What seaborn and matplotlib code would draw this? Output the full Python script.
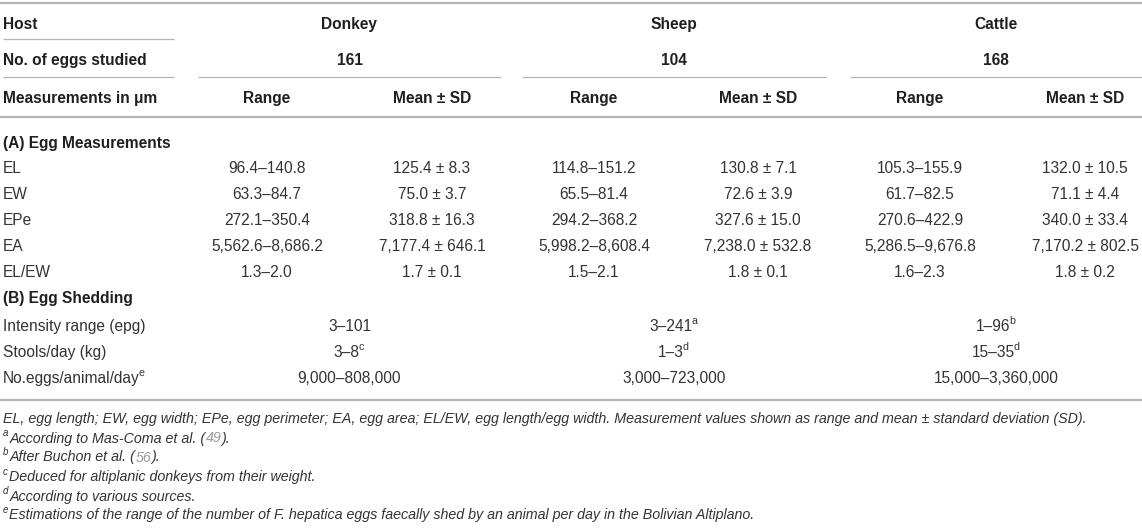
import matplotlib
matplotlib.use('Agg')
import matplotlib.pyplot as plt
import seaborn as sns

sns.set_theme(style='white')
plt.rcParams['font.family'] = ['Liberation Sans', 'DejaVu Sans']

# ---- table content ----
hosts = ['Donkey', 'Sheep', 'Cattle']
n_eggs = ['161', '104', '168']
measures = ['EL', 'EW', 'EPe', 'EA', 'EL/EW']

donkey_range = ['96.4–140.8', '63.3–84.7', '272.1–350.4', '5,562.6–8,686.2', '1.3–2.0']
donkey_mean = ['125.4 ± 8.3', '75.0 ± 3.7', '318.8 ± 16.3', '7,177.4 ± 646.1', '1.7 ± 0.1']
sheep_range = ['114.8–151.2', '65.5–81.4', '294.2–368.2', '5,998.2–8,608.4', '1.5–2.1']
sheep_mean = ['130.8 ± 7.1', '72.6 ± 3.9', '327.6 ± 15.0', '7,238.0 ± 532.8', '1.8 ± 0.1']
cattle_range = ['105.3–155.9', '61.7–82.5', '270.6–422.9', '5,286.5–9,676.8', '1.6–2.3']
cattle_mean = ['132.0 ± 10.5', '71.1 ± 4.4', '340.0 ± 33.4', '7,170.2 ± 802.5', '1.8 ± 0.2']

shed_labels = ['Intensity range (epg)', 'Stools/day (kg)', 'No.eggs/animal/day']
shed_label_sup = ['', '', 'e']
donkey_shed = ['3–101', '3–8', '9,000–808,000']
donkey_shed_sup = ['', 'c', '']
sheep_shed = ['3–241', '1–3', '3,000–723,000']
sheep_shed_sup = ['a', 'd', '']
cattle_shed = ['1–96', '15–35', '15,000–3,360,000']
cattle_shed_sup = ['b', 'd', '']

footnotes = [
    ('', [('EL, egg length; EW, egg width; EPe, egg perimeter; EA, egg area; EL/EW, egg length/egg width. '
           'Measurement values shown as range and mean ± standard deviation (SD).', 'k')]),
    ('a', [('According to Mas-Coma et al. (', 'k'), ('49', 'g'), (').', 'k')]),
    ('b', [('After Buchon et al. (', 'k'), ('56', 'g'), (').', 'k')]),
    ('c', [('Deduced for altiplanic donkeys from their weight.', 'k')]),
    ('d', [('According to various sources.', 'k')]),
    ('e', [('Estimations of the range of the number of F. hepatica eggs faecally shed by an animal '
            'per day in the Bolivian Altiplano.', 'k')]),
]

# ---- layout ----
W, H = 1142, 528
dark = '#1f1f1f'
body = '#333333'
grey = '#9a9a9a'
rule = '#b4b4b4'
fs_head = 11.2
fs_body = 11.2
fs_note = 10.3
VA = 'center_baseline'

fig = plt.figure(figsize=(W / 100, H / 100), dpi=100)
ax = fig.add_axes([0, 0, 1, 1])
ax.set_xlim(0, W)
ax.set_ylim(H, 0)
ax.axis('off')
renderer = fig.canvas.get_renderer()

grp_x0 = [198, 522, 850]
grp_x1 = [501, 826, 1142]
grp_c = [(a + b) / 2 for a, b in zip(grp_x0, grp_x1)]
col_range = [267, 594, 920]
col_mean = [432, 758, 1085]
left = 3


def rich(x, y, pieces, ha='left', size=fs_body, style='normal', weight='normal'):
    # pieces: (text, colour, is_superscript)
    arts = []
    cx = 0
    for s, c, sup in pieces:
        if not s:
            continue
        fsz = size * 0.68 if sup else size
        dy = -size * 0.45 if sup else 0
        if sup and arts:
            cx -= 1
        t = ax.text(x + cx, y + dy, s, color=c, fontsize=fsz, va=VA,
                    ha='left', fontstyle=style, fontweight=weight)
        arts.append(t)
        cx += t.get_window_extent(renderer).width
        if sup:
            cx += 1
    if ha == 'center':
        for t in arts:
            px, py = t.get_position()
            t.set_position((px - cx / 2, py))
    return arts


# rules
ax.hlines(3, 0, W, color=rule, lw=1.6)
ax.hlines(39, left, 174, color=rule, lw=0.9)
ax.hlines(77, left, 174, color=rule, lw=0.9)
for a, b in zip(grp_x0, grp_x1):
    ax.hlines(77, a, b, color=rule, lw=0.9)
ax.hlines(117, 0, W, color=rule, lw=1.6)
ax.hlines(400, 0, W, color=rule, lw=1.6)

# header
ax.text(left, 23, 'Host', fontsize=fs_head, fontweight='bold', color=dark, va=VA)
ax.text(left, 59, 'No. of eggs studied', fontsize=fs_head, fontweight='bold', color=dark, va=VA)
ax.text(left, 97, 'Measurements in μm', fontsize=fs_head, fontweight='bold', color=dark, va=VA)
for i in range(3):
    ax.text(grp_c[i], 23, hosts[i], fontsize=fs_head, fontweight='bold', color=dark, ha='center', va=VA)
    ax.text(grp_c[i], 59, n_eggs[i], fontsize=fs_head, fontweight='bold', color=dark, ha='center', va=VA)
    ax.text(col_range[i], 97, 'Range', fontsize=fs_head, fontweight='bold', color=dark, ha='center', va=VA)
    ax.text(col_mean[i], 97, 'Mean ± SD', fontsize=fs_head, fontweight='bold', color=dark, ha='center', va=VA)

# (A) egg measurements
ax.text(left, 142, '(A) Egg Measurements', fontsize=fs_head, fontweight='bold', color=dark, va=VA)
row_y = [167, 193, 219, 245, 271]
ranges = [donkey_range, sheep_range, cattle_range]
means = [donkey_mean, sheep_mean, cattle_mean]
for r, y in enumerate(row_y):
    ax.text(left, y, measures[r], fontsize=fs_body, color=body, va=VA)
    for i in range(3):
        ax.text(col_range[i], y, ranges[i][r], fontsize=fs_body, color=body, ha='center', va=VA)
        ax.text(col_mean[i], y, means[i][r], fontsize=fs_body, color=body, ha='center', va=VA)

# (B) egg shedding
ax.text(left, 297, '(B) Egg Shedding', fontsize=fs_head, fontweight='bold', color=dark, va=VA)
shed_y = [325, 351, 377]
sheds = [donkey_shed, sheep_shed, cattle_shed]
sheds_sup = [donkey_shed_sup, sheep_shed_sup, cattle_shed_sup]
for r, y in enumerate(shed_y):
    rich(left, y, [(shed_labels[r], body, False), (shed_label_sup[r], body, True)])
    for i in range(3):
        rich(grp_c[i], y, [(sheds[i][r], body, False), (sheds_sup[i][r], body, True)], ha='center')

# footnotes
note_y = [418, 437, 456, 476, 495, 514]
for (sup, parts), y in zip(footnotes, note_y):
    pieces = []
    if sup:
        pieces.append((sup, body, True))
    for s, c in parts:
        pieces.append((s, grey if c == 'g' else body, False))
    rich(left, y, pieces, size=fs_note, style='italic')

fig.savefig('out.png', dpi=100)
